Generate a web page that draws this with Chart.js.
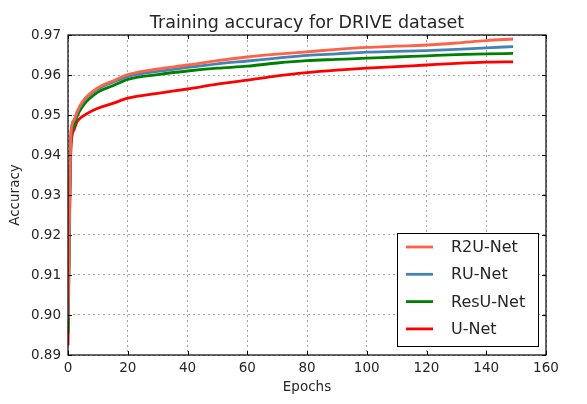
<!DOCTYPE html>
<html>
<head>
<meta charset="utf-8">
<script src="https://cdn.jsdelivr.net/npm/chart.js@4/dist/chart.umd.min.js"></script>
<style>
  html, body { margin: 0; padding: 0; background: #ffffff; }
  #wrap { width: 587px; height: 404px; }
</style>
</head>
<body>
<div id="wrap"><canvas id="c" width="587" height="404"></canvas></div>
<script>
// ---- data ----
const epochs   = [0, 1, 2, 3, 5, 10, 15, 20, 30, 40, 50, 60, 70, 80, 90, 100, 110, 120, 130, 140, 149];
const r2uNet   = [0.8995, 0.9458, 0.9488, 0.9508, 0.9535, 0.9568, 0.9585, 0.9601, 0.9615, 0.9625, 0.9636, 0.9645, 0.9652, 0.9658, 0.9664, 0.9669, 0.9672, 0.9675, 0.9680, 0.9686, 0.9690];
const ruNet    = [0.8985, 0.9455, 0.9485, 0.9505, 0.9532, 0.9565, 0.9582, 0.9596, 0.9609, 0.9619, 0.9628, 0.9635, 0.9642, 0.9649, 0.9653, 0.9657, 0.9659, 0.9661, 0.9664, 0.9668, 0.9671];
const resuNet  = [0.8955, 0.9442, 0.9471, 0.9496, 0.9523, 0.9557, 0.9573, 0.9589, 0.9601, 0.9610, 0.9617, 0.9622, 0.9630, 0.9636, 0.9639, 0.9642, 0.9645, 0.9648, 0.9651, 0.9653, 0.9654];
const uNet     = [0.8925, 0.9418, 0.9463, 0.9483, 0.9497, 0.9517, 0.9529, 0.9542, 0.9554, 0.9565, 0.9577, 0.9587, 0.9598, 0.9606, 0.9612, 0.9617, 0.9621, 0.9625, 0.9629, 0.9632, 0.9633];
const seriesNames = ['R2U-Net', 'RU-Net', 'ResU-Net', 'U-Net'];
const xTicks = [0, 20, 40, 60, 80, 100, 120, 140, 160];
const yTicks = [0.89, 0.90, 0.91, 0.92, 0.93, 0.94, 0.95, 0.96, 0.97];
const chartTitle = 'Training accuracy for DRIVE dataset';
const xTitle = 'Epochs';
const yTitle = 'Accuracy';

const colors = ['#ff6347', '#4682b4', '#008000', '#ff0000'];
const seriesValues = [r2uNet, ruNet, resuNet, uNet];

const FONT = 'DejaVu Sans';
const TEXT = '#262626';

function toPoints(vals) { return epochs.map((e, i) => ({ x: e, y: vals[i] })); }

const frameAndLegend = {
  id: 'frameAndLegend',
  afterDatasetsDraw(chart) {
    const ctx = chart.ctx;
    const a = chart.chartArea;
    const xs = chart.scales.x, ys = chart.scales.y;
    ctx.save();
    // frame
    ctx.strokeStyle = '#000';
    ctx.lineWidth = 1.2;
    ctx.strokeRect(a.left, a.top, a.right - a.left, a.bottom - a.top);
    // inward ticks on all sides
    ctx.lineWidth = 1;
    ctx.beginPath();
    xTicks.forEach(v => {
      const px = Math.round(xs.getPixelForValue(v)) + 0.5;
      ctx.moveTo(px, a.bottom); ctx.lineTo(px, a.bottom - 4);
      ctx.moveTo(px, a.top); ctx.lineTo(px, a.top + 4);
    });
    yTicks.forEach(v => {
      const py = Math.round(ys.getPixelForValue(v)) + 0.5;
      ctx.moveTo(a.left, py); ctx.lineTo(a.left + 4, py);
      ctx.moveTo(a.right, py); ctx.lineTo(a.right - 4, py);
    });
    ctx.stroke();
    // legend box inside the plot (lower right)
    const bx = 397, by = 233, bw = 141, bh = 113;
    ctx.fillStyle = '#fff';
    ctx.fillRect(bx, by, bw, bh);
    ctx.strokeStyle = '#000';
    ctx.lineWidth = 1;
    ctx.strokeRect(bx + 0.5, by + 0.5, bw, bh);
    ctx.font = '16px "' + FONT + '"';
    ctx.textBaseline = 'middle';
    ctx.textAlign = 'left';
    chart.data.datasets.forEach((ds, i) => {
      const y = by + 14 + i * 27.3;
      ctx.strokeStyle = ds.borderColor;
      ctx.lineWidth = 2.8;
      ctx.beginPath();
      ctx.moveTo(bx + 9, y); ctx.lineTo(bx + 36, y);
      ctx.stroke();
      ctx.fillStyle = TEXT;
      ctx.fillText(ds.label, bx + 54, y + 1);
    });
    ctx.restore();
  }
};

new Chart(document.getElementById('c'), {
  type: 'line',
  data: {
    datasets: seriesNames.map((name, i) => ({
      label: name,
      data: toPoints(seriesValues[i]),
      borderColor: colors[i],
      backgroundColor: colors[i],
      borderWidth: 2.8,
      pointRadius: 0,
      fill: false,
      cubicInterpolationMode: 'monotone'
    }))
  },
  options: {
    responsive: false,
    animation: false,
    devicePixelRatio: 1,
    layout: { padding: { top: 0, right: 41, bottom: 0, left: 0 } },
    plugins: {
      legend: { display: false },
      tooltip: { enabled: false },
      title: {
        display: true,
        text: chartTitle,
        fullSize: false,
        color: TEXT,
        font: { family: FONT, size: 17.5, weight: 'normal', lineHeight: 1.2 },
        padding: { top: 12.5, bottom: 1.5 }
      }
    },
    scales: {
      x: {
        type: 'linear',
        min: 0, max: 160,
        afterBuildTicks(s) { s.ticks = xTicks.map(v => ({ value: v })); },
        afterFit(s) { s.height = 49; },
        ticks: {
          color: TEXT, maxRotation: 0, autoSkip: false, padding: 5,
          font: { family: FONT, size: 13.5 },
          callback: v => String(v)
        },
        grid: { color: 'rgba(0,0,0,0.35)', lineWidth: 1, drawTicks: false },
        border: { display: false, dash: [2, 3] },
        title: {
          display: true, text: xTitle, color: TEXT,
          font: { family: FONT, size: 13.5 },
          padding: { top: 0, bottom: 8 }
        }
      },
      y: {
        type: 'linear',
        min: 0.89, max: 0.97,
        afterBuildTicks(s) { s.ticks = yTicks.map(v => ({ value: v })); },
        afterFit(s) { s.width = 68; },
        ticks: {
          color: TEXT, padding: 7,
          font: { family: FONT, size: 13.5 },
          callback: v => Number(v).toFixed(2)
        },
        grid: { color: 'rgba(0,0,0,0.35)', lineWidth: 1, drawTicks: false },
        border: { display: false, dash: [2, 3] },
        title: {
          display: true, text: yTitle, color: TEXT,
          font: { family: FONT, size: 13.5 },
          padding: { top: 7, bottom: 0 }
        }
      }
    }
  },
  plugins: [frameAndLegend]
});
</script>
</body>
</html>
